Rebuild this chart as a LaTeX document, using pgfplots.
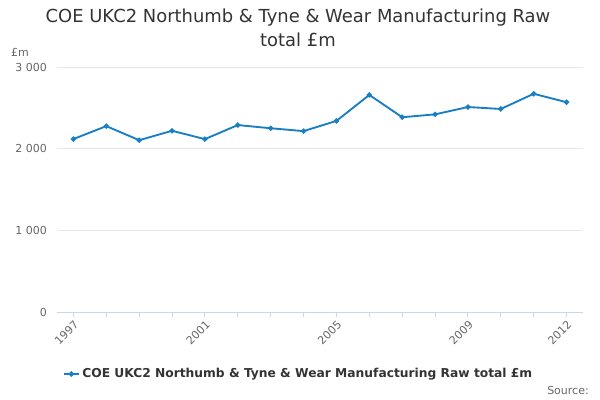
\documentclass[border=0pt]{standalone}
\usepackage{fontspec}
\setmainfont{DejaVu Sans}
\usepackage{pgfplots}
\pgfplotsset{compat=1.18}

\definecolor{seriesblue}{RGB}{24,127,196}
\definecolor{titlegray}{RGB}{51,51,51}
\definecolor{tickgray}{RGB}{102,102,102}
\definecolor{gridgray}{RGB}{230,230,230}
\definecolor{axisblue}{RGB}{204,214,235}

\begin{document}
\begin{tikzpicture}
% page: 600x400 px, 1px = 0.75pt, axis box lower left at (0,0)
\path (-42.75pt,-66pt) rectangle (407.25pt,234pt);
\begin{axis}[
  scale only axis,
  width=394.5pt,
  height=183.75pt,
  xmin=1996.5, xmax=2012.5,
  ymin=0, ymax=3000,
  axis line style={draw=none},
  axis x line*=bottom,
  axis y line*=left,
  x axis line style={draw=axisblue, line width=0.75pt},
  xtick={1997,2001,2005,2009,2012},
  xticklabels={1997,2001,2005,2009,2012},
  minor xtick={1998,1999,2000,2002,2003,2004,2006,2007,2008,2010,2011},
  x tick label style={rotate=45, anchor=north east, font=\fontsize{8.25pt}{9pt}\selectfont, text=tickgray, inner sep=1pt},
  xtick style={draw=axisblue, line width=0.75pt},
  minor x tick style={draw=axisblue, line width=0.75pt},
  tick align=outside,
  major tick length=4pt,
  minor tick length=4pt,
  ytick={0,1000,2000,3000},
  yticklabels={0,1 000,2 000,3 000},
  y tick label style={font=\fontsize{8.25pt}{9pt}\selectfont, text=tickgray},
  ytick style={draw=none},
  ymajorgrids,
  major grid style={draw=gridgray, line width=0.75pt},
  /pgf/number format/assume math mode=true,
  legend style={at={(0.46,-0.253)}, anchor=center, draw=none, fill=none,
    font=\bfseries\fontsize{9.2pt}{11pt}\selectfont, text=titlegray},
  legend image code/.code={
    \draw[#1, line width=1.5pt] (0pt,0pt) -- (11pt,0pt);
    \fill[seriesblue] (5.5pt,0pt) circle (1.3pt);
  },
  clip=false,
]
\addplot[seriesblue, line width=1.4pt, mark=*, mark size=1.2pt,
  mark options={fill=seriesblue, draw=seriesblue}] coordinates {
  (1997, 2118)
  (1998, 2276)
  (1999, 2104)
  (2000, 2219)
  (2001, 2117)
  (2002, 2289)
  (2003, 2250)
  (2004, 2215)
  (2005, 2340)
  (2006, 2658)
  (2007, 2385)
  (2008, 2420)
  (2009, 2510)
  (2010, 2486)
  (2011, 2672)
  (2012, 2569)
};
\addlegendentry{COE UKC2 Northumb \& Tyne \& Wear Manufacturing Raw total £m}
\end{axis}
\node[text=titlegray, font=\fontsize{13.45pt}{15pt}\selectfont] at (180.75pt,220.5pt) {COE UKC2 Northumb \& Tyne \& Wear Manufacturing Raw};
\node[text=titlegray, font=\fontsize{13.45pt}{15pt}\selectfont] at (180.75pt,204pt) {total £m};
\node[text=tickgray, font=\fontsize{8.25pt}{9pt}\selectfont] at (-27.75pt,195pt) {£m};
\node[text=tickgray, font=\fontsize{8.25pt}{9pt}\selectfont, anchor=east, inner sep=0pt] at (399pt,-58.5pt) {Source:};
\end{tikzpicture}
\end{document}
